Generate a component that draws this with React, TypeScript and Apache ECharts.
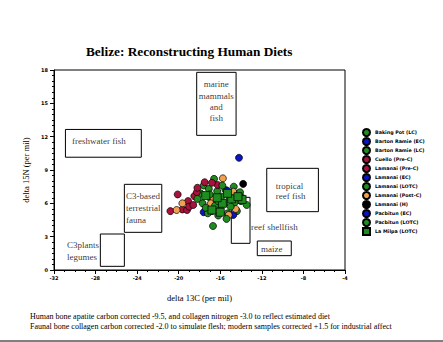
import React, { useEffect, useRef } from "react";
import * as echarts from "echarts";

const titleText = "Belize: Reconstructing Human Diets";
const xName = "delta 13C (per mil)";
const yName = "delta 15N (per mil)";
const footnotes = [
  "Human bone apatite carbon corrected -9.5, and collagen nitrogen -3.0 to reflect estimated diet",
  "Faunal bone collagen carbon corrected -2.0 to simulate flesh; modern samples corrected +1.5 for industrial affect",
];

// food source ranges: [x1, y1, x2, y2]
const foodBoxes = [
  [-30.9, 10.15, -23.6, 12.65],
  [-25.23, 3.39, -21.63, 7.71],
  [-27.54, 0.33, -25.23, 3.24],
  [-18.27, 12.12, -14.48, 17.79],
  [-11.53, 5.25, -6.56, 9.15],
  [-14.94, 2.4, -13.14, 6.54],
  [-12.44, 1.29, -9.17, 2.61],
];
// food source labels: [x, y]
const foodLabelPos = [
  [-30.27, 11.61],
  [-25.07, 5.58],
  [-30.75, 1.71],
  [-16.38, 15.18],
  [-10.67, 7.11],
  [-13.05, 3.87],
  [-12.08, 1.89],
];
const foodLabelText = [
  "freshwater fish",
  "C3-based\nterrestrial\nfauna",
  "C3plants\nlegumes",
  "marine\nmammals\nand\nfish",
  "tropical\nreef fish",
  "reef shellfish",
  "maize",
];
const foodLabelAlign = ["left", "left", "left", "center", "left", "left", "left"];

const seriesNames = [
  "Baking Pot (LC)",
  "Barton Ramie (EC)",
  "Barton Ramie (LC)",
  "Cuello (Pre-C)",
  "Lamanai (Pre-C)",
  "Lamanai (EC)",
  "Lamanai (LOTC)",
  "Lamanai (Post-C)",
  "Lamanai (H)",
  "Pacbitun (EC)",
  "Pacbitun (LOTC)",
  "La Milpa (LOTC)",
];

const bakingPotLC = [[-16.6, 8.2], [-17.6, 7.6], [-17.9, 6.9], [-17.1, 7.3], [-16.3, 7.1], [-15.5, 7.2]];
const bartonRamieEC = [[-17.6, 5.2], [-14.2, 10.1]];
const bartonRamieLC = [[-14.2, 6.9], [-13.46, 5.85], [-14.4, 5.3], [-16.7, 3.96], [-16.2, 4.9]];
const cuelloPreC = [[-20.8, 5.3], [-20.1, 6.8], [-19.65, 5.45], [-19.2, 5.4], [-19.1, 6.2]];
const lamanaiPreC = [[-19.0, 5.7], [-18.6, 5.85], [-18.5, 6.65], [-18.25, 7.0], [-18.2, 7.4], [-16.25, 7.65], [-17.5, 7.9], [-16.8, 7.85]];
const lamanaiEC = [[-14.75, 4.95]];
const lamanaiLOTC = [[-17.2, 5.1], [-17.7, 6.0], [-15.6, 6.0], [-15.1, 6.5], [-15.9, 6.6], [-16.9, 6.4], [-14.7, 7.5], [-15.3, 5.1], [-16.0, 5.5]];
const lamanaiPostC = [[-20.2, 5.4], [-19.65, 6.0], [-15.75, 8.25], [-16.67, 6.5], [-14.75, 7.05], [-15.19, 4.95], [-14.52, 5.49], [-16.9, 6.0]];
const lamanaiH = [[-13.8, 7.75]];
const pacbitunEC = [[-15.33, 7.14]];
const pacbitunLOTC = [[-17.4, 5.6], [-14.0, 6.2], [-14.6, 6.1], [-16.5, 5.8], [-15.8, 7.6], [-17.0, 6.8], [-16.2, 6.2], [-15.0, 5.7], [-14.3, 6.7], [-18.2, 6.4], [-16.8, 5.3], [-15.4, 4.6], [-13.9, 6.5], [-14.1, 7.0]];
const laMilpaLOTC = [[-17.4, 6.7], [-16.8, 5.4], [-15.8, 6.0], [-16.3, 6.5], [-14.9, 6.4], [-13.9, 6.35], [-14.3, 6.6], [-16.0, 5.2], [-15.3, 6.9]];

const seriesData = [
  bakingPotLC, bartonRamieEC, bartonRamieLC, cuelloPreC, lamanaiPreC, lamanaiEC,
  lamanaiLOTC, lamanaiPostC, lamanaiH, pacbitunEC, pacbitunLOTC, laMilpaLOTC,
];
const seriesColors = [
  "#1e8c1e", "#0a14c8", "#1e8c1e", "#a8123c", "#a8123c", "#0a14c8",
  "#1e8c1e", "#f0a050", "#000000", "#0a14c8", "#1e8c1e", "#1e8c1e",
];
const seriesSymbols = ["circle", "circle", "circle", "circle", "circle", "circle", "circle", "circle", "circle", "circle", "circle", "rect"];

export default function App() {
  const ref = useRef<HTMLDivElement>(null);
  useEffect(() => {
    if (!ref.current) return;
    const chart = echarts.init(ref.current, null, { renderer: "svg" });
    const serif = "'Liberation Serif', 'DejaVu Serif', serif";
    const scatterSeries = seriesNames.map((name, i) => ({
      type: "scatter",
      name,
      data: seriesData[i],
      symbol: seriesSymbols[i],
      symbolSize: seriesSymbols[i] === "rect" ? 8 : 7,
      itemStyle: { color: seriesColors[i], borderColor: "#000", borderWidth: 0.7, opacity: 1 },
      z: 3 + i,
    }));
    const labelLineHeights = [12, 12, 11.7, 11.3, 10, 12, 12];
    chart.setOption({
      animation: false,
      backgroundColor: "#fff",
      title: {
        text: titleText,
        left: 86,
        top: 45,
        padding: 0,
        textStyle: { fontFamily: serif, fontWeight: "bold", fontSize: 13.3, color: "#000" },
      },
      legend: {
        orient: "vertical",
        left: 362,
        top: 128,
        padding: 0,
        itemWidth: 7,
        itemHeight: 7,
        itemGap: 0,
        textStyle: { fontSize: 4.8, fontWeight: "bold", color: "#000", fontFamily: "'DejaVu Sans', sans-serif" },
        data: seriesNames.map((n, i) => ({ name: n, icon: seriesSymbols[i] })),
      },
      grid: { left: 54, right: 98, top: 70, bottom: 72, show: true, borderColor: "#000", borderWidth: 1 },
      xAxis: {
        type: "value",
        min: -32,
        max: -4,
        interval: 4,
        name: xName,
        nameLocation: "middle",
        nameGap: 23,
        nameTextStyle: { fontFamily: serif, fontSize: 8.5, color: "#000" },
        axisLine: { lineStyle: { color: "#000", width: 1 } },
        axisTick: { length: 4, lineStyle: { color: "#000" } },
        minorTick: { show: true, splitNumber: 4, length: 2, lineStyle: { color: "#000" } },
        splitLine: { show: false },
        axisLabel: { fontSize: 5, fontWeight: "bold", color: "#000", margin: 5, fontFamily: "'DejaVu Sans', sans-serif" },
      },
      yAxis: {
        type: "value",
        min: 0,
        max: 18,
        interval: 3,
        name: yName,
        nameLocation: "middle",
        nameGap: 24,
        nameTextStyle: { fontFamily: serif, fontSize: 8.5, color: "#000" },
        axisLine: { show: true, lineStyle: { color: "#000", width: 1 } },
        axisTick: { show: true, length: 4, lineStyle: { color: "#000" } },
        minorTick: { show: true, splitNumber: 6, length: 2, lineStyle: { color: "#000" } },
        splitLine: { show: false },
        axisLabel: { fontSize: 5, fontWeight: "bold", color: "#000", margin: 6, fontFamily: "'DejaVu Sans', sans-serif" },
      },
      graphic: [
        {
          type: "text",
          left: 30,
          top: 311,
          style: { text: footnotes.join("\n"), fontFamily: serif, fontSize: 8, lineHeight: 10.6, fill: "#000" },
        },
        {
          type: "line",
          shape: { x1: 0, y1: 341, x2: 443, y2: 341 },
          style: { stroke: "#000", lineWidth: 1 },
        },
      ],
      series: [
        {
          type: "custom",
          name: "boxes",
          data: foodBoxes,
          z: 1,
          silent: true,
          itemStyle: { color: "#000" },
          renderItem: (params: any, api: any) => {
            const p1 = api.coord([api.value(0), api.value(3)]);
            const p2 = api.coord([api.value(2), api.value(1)]);
            return {
              type: "rect",
              shape: { x: p1[0], y: p1[1], width: p2[0] - p1[0], height: p2[1] - p1[1] },
              style: { fill: "none", stroke: "#000", lineWidth: 1 },
            };
          },
        },
        {
          type: "scatter",
          name: "boxLabels",
          symbolSize: 0,
          silent: true,
          z: 2,
          itemStyle: { color: "#000" },
          data: foodLabelPos.map((p, i) => ({
            value: p,
            label: {
              show: true,
              position: "inside",
              formatter: foodLabelText[i],
              align: foodLabelAlign[i],
              verticalAlign: "middle",
              lineHeight: labelLineHeights[i],
              fontFamily: serif,
              fontSize: 9,
              color: "#000",
              textBorderWidth: 0,
            },
          })),
        },
        ...scatterSeries,
      ],
    });
    return () => chart.dispose();
  }, []);
  return <div ref={ref} style={{ position: "fixed", left: 0, top: 0, width: 443, height: 342 }} />;
}
